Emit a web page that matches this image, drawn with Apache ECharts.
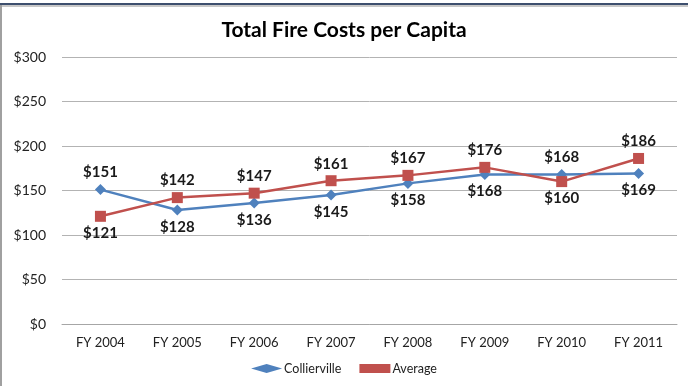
<!DOCTYPE html>
<html><head><meta charset="utf-8">
<script src="https://cdn.jsdelivr.net/npm/echarts@6/dist/echarts.min.js"></script>
<style>html,body{margin:0;padding:0;background:#fff}#c{width:688px;height:386px}</style>
</head><body><div id="c"></div>
<script>
const categories = ['FY 2004','FY 2005','FY 2006','FY 2007','FY 2008','FY 2009','FY 2010','FY 2011'];
const collierville = [151,128,136,145,158,168,168,169];
const average = [121,142,147,161,167,176,160,186];
const collLabelPos = ['top','bottom','bottom','bottom','bottom','bottom','top','bottom'];
const avgLabelPos = ['bottom','top','top','top','top','top','bottom','top'];
const yTicks = [0,50,100,150,200,250,300];

const F = 'Lato, "Open Sans", sans-serif';
const lbl = {show:true, fontFamily:F, fontWeight:'bold', fontSize:15, color:'#1a1a1a', distance:4, formatter: p => '$' + p.value};
const chart = echarts.init(document.getElementById('c'));
chart.setOption({
  animation:false,
  title:{text:'Total Fire Costs per Capita', left:'center', top:15, textStyle:{fontFamily:F, fontWeight:'bold', fontSize:21, color:'#000'}},
  grid:{left:62, right:11, top:57, bottom:62},
  xAxis:{type:'category', data:categories, boundaryGap:true,
    axisLine:{lineStyle:{color:'#a6a6a6'}}, axisTick:{show:false},
    axisLabel:{fontFamily:F, fontSize:13, color:'#222', margin:12}},
  yAxis:{type:'value', min:yTicks[0], max:yTicks[yTicks.length-1], interval:50,
    axisLine:{show:false}, axisTick:{show:false},
    splitLine:{lineStyle:{color:'#b3b3b3'}},
    axisLabel:{fontFamily:F, fontSize:14, color:'#222', margin:16, formatter: v => '$' + v}},
  legend:{bottom:6, left:'center', itemWidth:31, itemHeight:9, itemGap:18,
    textStyle:{fontFamily:F, fontSize:12.5, color:'#222', padding:[0,0,0,-3]},
    data:[{name:'Collierville', icon:'diamond'},{name:'Average', icon:'rect'}]},
  series:[
    {name:'Collierville', type:'line', symbol:'diamond', symbolSize:11,
      lineStyle:{color:'#4F81BD', width:2.5}, itemStyle:{color:'#4F81BD'},
      data: collierville.map((v,i)=>({value:v, label:Object.assign({}, lbl, {position:collLabelPos[i]})})),
      label:lbl},
    {name:'Average', type:'line', symbol:'rect', symbolSize:11,
      lineStyle:{color:'#C0504D', width:2.5}, itemStyle:{color:'#C0504D'},
      data: average.map((v,i)=>({value:v, label:Object.assign({}, lbl, {position:avgLabelPos[i]})})),
      label:lbl}
  ],
  graphic:[
    {type:'rect', shape:{x:0,y:3,width:688,height:2}, style:{fill:'#3d4f6e'}},
    {type:'rect', shape:{x:0,y:5,width:688,height:2}, style:{fill:'#c8c8c8'}},
    {type:'rect', shape:{x:0,y:5,width:2,height:381}, style:{fill:'#a0a0a0'}}
  ]
});
</script></body></html>
